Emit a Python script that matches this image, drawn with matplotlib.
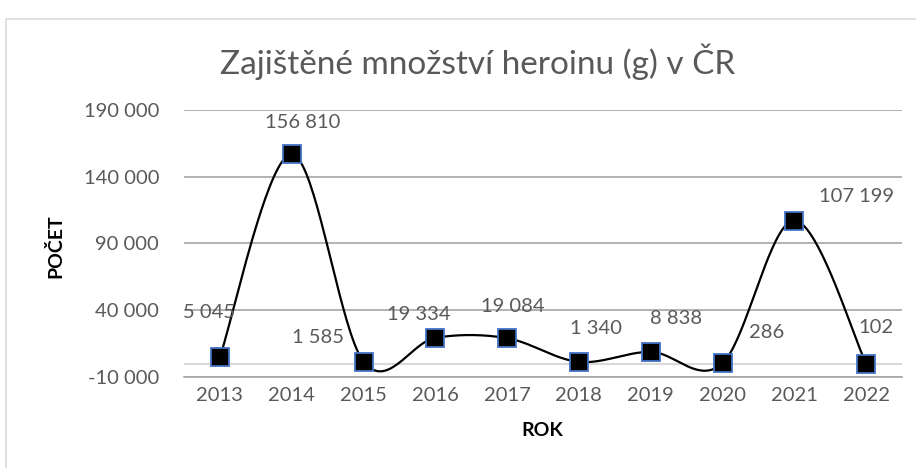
import matplotlib.pyplot as plt
import matplotlib.ticker as mtick
import numpy as np
from matplotlib.patches import Rectangle

years = ["2013", "2014", "2015", "2016", "2017", "2018", "2019", "2020", "2021", "2022"]
amounts = [5045, 156810, 1585, 19334, 19084, 1340, 8838, 286, 107199, 102]
# label offsets (points) as placed by Excel
label_dx = [-8, 8, -33, -12, 4, 12, 18, 32, 45, 7]
label_dy = [-32, -23, -17, -17, -23, -24, -24, -22, -17, -26]

TEXT = "#595959"
FONT = ["Lato", "DejaVu Sans"]


def smooth_line(x, y, n=40):
    """Excel-like smoothed line: Catmull-Rom segments drawn as cubic Beziers."""
    px, py = [], []
    k = len(x)
    for i in range(k - 1):
        x0, y0 = (x[i - 1], y[i - 1]) if i > 0 else (x[i], y[i])
        x3, y3 = (x[i + 2], y[i + 2]) if i + 2 < k else (x[i + 1], y[i + 1])
        c1 = (x[i] + (x[i + 1] - x0) / 6, y[i] + (y[i + 1] - y0) / 6)
        c2 = (x[i + 1] - (x3 - x[i]) / 6, y[i + 1] - (y3 - y[i]) / 6)
        t = np.linspace(0, 1, n)
        a, b, c, d = (1 - t) ** 3, 3 * (1 - t) ** 2 * t, 3 * (1 - t) * t ** 2, t ** 3
        px.extend(a * x[i] + b * c1[0] + c * c2[0] + d * x[i + 1])
        py.extend(a * y[i] + b * c1[1] + c * c2[1] + d * y[i + 1])
    return np.array(px), np.array(py)


plt.rcParams["font.family"] = FONT

fig = plt.figure(figsize=(9.16, 4.68), dpi=100)
fig.patches.append(Rectangle((6 / 916, -0.1), 1.2, (468 - 19) / 468 + 0.1,
                             transform=fig.transFigure, fill=False,
                             edgecolor="#D9D9D9", linewidth=1.2))

ax = fig.add_axes([184 / 916, (468 - 377) / 468, (902 - 184) / 916, (377 - 110) / 468])

x = np.arange(len(years))
ax.set_xlim(-0.5, len(years) - 0.5)
ax.set_ylim(-10000, 190000)
ax.set_yticks(np.arange(-10000, 190001, 50000))
ax.yaxis.set_major_formatter(mtick.FuncFormatter(lambda v, p: f"{int(v):,}".replace(",", " ")))
ax.set_xticks(x)
ax.set_xticklabels(years)

ax.grid(axis="y", color="#A6A6A6", linewidth=1.2)
ax.axhline(0, color="#D9D9D9", linewidth=1.5, zorder=1)
for s in ["top", "right", "left"]:
    ax.spines[s].set_visible(False)
ax.spines["bottom"].set_color("#A6A6A6")
ax.spines["bottom"].set_linewidth(1.2)
ax.tick_params(length=0, labelsize=14.5, labelcolor=TEXT)
ax.tick_params(axis="y", pad=18)
ax.tick_params(axis="x", pad=7)

sx, sy = smooth_line(x, amounts)
ax.plot(sx, sy, color="black", linewidth=1.6, zorder=3)
ax.plot(x, amounts, linestyle="none", marker="s", markersize=12.5,
        markerfacecolor="black", markeredgecolor="#4472C4", markeredgewidth=1.3, zorder=4)

for xi, v, dx, dy in zip(x, amounts, label_dx, label_dy):
    ax.annotate(f"{v:,}".replace(",", " "), (xi, v), xytext=(dx, -dy),
                textcoords="offset points", ha="center", va="center",
                fontsize=14.5, color=TEXT, zorder=5)

fig.text(478 / 916, 1 - 62 / 468, "Zajištěné množství heroinu (g) v ČR",
         ha="center", va="center", fontsize=24, color=TEXT)
fig.text(55 / 916, 1 - 246 / 468, "POČET", rotation=90, ha="center", va="center",
         fontsize=14, fontweight="bold", color="black")
fig.text(542 / 916, 1 - 431 / 468, "ROK", ha="center", va="center",
         fontsize=14, fontweight="bold", color="black")

fig.savefig("out.png", dpi=100)
